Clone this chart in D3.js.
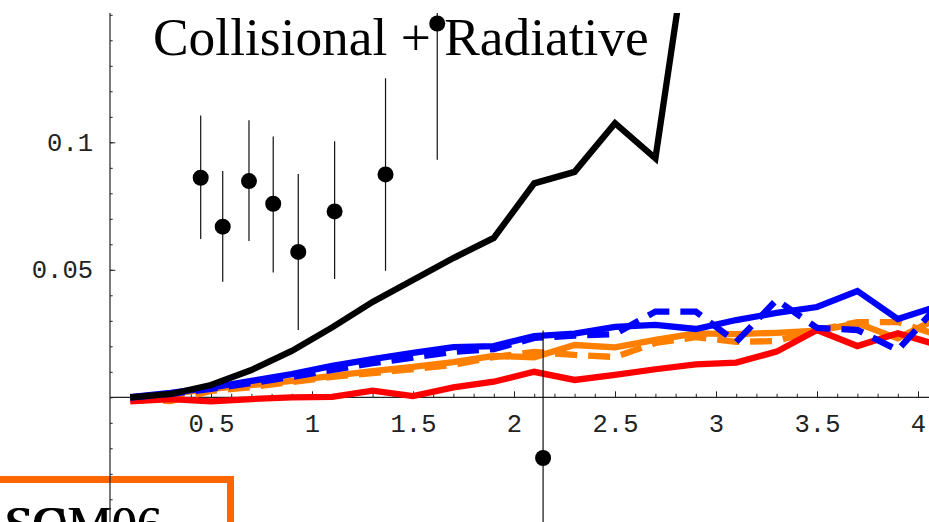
<!DOCTYPE html>
<html>
<head>
<meta charset="utf-8">
<script src="https://cdn.jsdelivr.net/npm/d3@7"></script>
<style>
body { margin: 0; background: #fff; }
svg { display: block; }
.tick text { font-family: "Liberation Mono", "Courier New", monospace; font-size: 25.5px; fill: #222; }
</style>
</head>
<body>
<script>
var w = 929;
var h = 522;

// model curves, sampled at these x values
var xVals = [0.1, 0.3, 0.5, 0.7, 0.9, 1.1, 1.3, 1.5, 1.7, 1.9, 2.1,
             2.3, 2.5, 2.7, 2.9, 3.1, 3.3, 3.5, 3.7, 3.9, 4.1];

var collRad = [0.0000, 0.0013, 0.0048, 0.0107, 0.0182, 0.0274, 0.0374, 0.0460,
               0.0546, 0.0625, 0.0839, 0.0884, 0.1075, 0.0937, 0.2005];

var blueSolid = [0.0001, 0.0017, 0.0038, 0.0064, 0.0091, 0.0123, 0.0150, 0.0174, 0.0197, 0.0201, 0.0240,
                 0.0250, 0.0276, 0.0284, 0.0268, 0.0303, 0.0331, 0.0354, 0.0417, 0.0307, 0.0358];
var blueDashed = [-0.0001, 0.0013, 0.0033, 0.0056, 0.0080, 0.0107, 0.0134, 0.0156, 0.0178, 0.0189, 0.0233,
                  0.0242, 0.0248, 0.0336, 0.0336, 0.0217, 0.0382, 0.0272, 0.0264, 0.0185, 0.0362];
var redSolid = [-0.0016, -0.0007, -0.0016, -0.0007, 0.0000, 0.0002, 0.0026, 0.0005, 0.0039, 0.0061, 0.0100,
                0.0068, 0.0088, 0.0110, 0.0129, 0.0136, 0.0179, 0.0264, 0.0201, 0.0251, 0.0205];
var orangeSolid = [0.0001, 0.0013, 0.0033, 0.0048, 0.0064, 0.0084, 0.0103, 0.0119, 0.0138, 0.0162, 0.0157,
                   0.0205, 0.0196, 0.0225, 0.0251, 0.0248, 0.0253, 0.0261, 0.0290, 0.0231, 0.0311];
var orangeDashed = [-0.0003, -0.0015, 0.0025, 0.0040, 0.0060, 0.0080, 0.0095, 0.0111, 0.0127, 0.0158, 0.0178,
                    0.0166, 0.0158, 0.0213, 0.0236, 0.0217, 0.0221, 0.0264, 0.0295, 0.0295, 0.0244];

// measured points with error bars
var ptX  = [0.449, 0.558, 0.688, 0.808, 0.932, 1.112, 1.364, 1.620, 2.144];
var ptY  = [0.0861, 0.0669, 0.0848, 0.0759, 0.0570, 0.0729, 0.0874, 0.1466, -0.0238];
var ptLo = [0.0621, 0.0453, 0.0613, 0.0489, 0.0264, 0.0464, 0.0496, 0.0932, -0.0800];
var ptHi = [0.1105, 0.0887, 0.1086, 0.1023, 0.0876, 0.1004, 0.1251, 0.2000, 0.0262];

var xMajor = [0.5, 1, 1.5, 2, 2.5, 3, 3.5, 4];
var yMajor = [0.05, 0.1];

var title = "Collisional + Radiative";
var legendTexts = ["SOM06", "SCM06"];

var xScale = d3.scaleLinear().domain([0, 4]).range([110, 918]);
var yScale = d3.scaleLinear().domain([0, 0.1]).range([397.3, 142.3]);

var yTop = yScale.invert(13);
var yBot = yScale.invert(h + 5);

var svg = d3.select("body").append("svg")
    .attr("width", w)
    .attr("height", h);

svg.append("clipPath").attr("id", "plot")
  .append("rect")
    .attr("x", xScale(0))
    .attr("y", yScale(yTop))
    .attr("width", w - xScale(0))
    .attr("height", h - yScale(yTop));

// legend frame (partly cut off at the bottom-left)
svg.append("rect")
    .attr("x", -20)
    .attr("y", 479.5)
    .attr("width", 250.5)
    .attr("height", 80)
    .attr("fill", "none")
    .attr("stroke", "#ff6600")
    .attr("stroke-width", 7);

svg.selectAll("text.legend")
    .data(legendTexts)
    .enter()
    .append("text")
    .attr("class", "legend")
    .attr("x", function(d, i) { return 4 + i * 2; })
    .attr("y", 541)
    .attr("font-family", "Liberation Serif, Times New Roman, serif")
    .attr("font-size", 50)
    .attr("fill", "#000")
    .text(function(d) { return d; });

// title
svg.append("text")
    .attr("x", 153)
    .attr("y", 55)
    .attr("font-family", "Liberation Serif, Times New Roman, serif")
    .attr("font-size", 53.4)
    .attr("fill", "#000")
    .text(title);

// axes
var yMinor = [];
for (var k = -4; k <= 15; k++) yMinor.push(k / 100);
var xMinor = [];
for (var j = 1; j <= 40; j++) xMinor.push(j / 10);

svg.append("g")
    .attr("transform", "translate(" + xScale(0) + ",0)")
    .call(d3.axisLeft(yScale).tickValues(yMinor).tickSize(-2.7).tickFormat(""))
    .call(function(g) { g.select(".domain").remove(); });

svg.append("g")
    .attr("transform", "translate(" + xScale(0) + ",0)")
    .call(d3.axisLeft(yScale).tickValues(yMajor).tickSize(-5.3).tickPadding(17)
          .tickFormat(function(d) { return d === 0.1 ? "0.1" : "0.05"; }))
    .call(function(g) { g.select(".domain").remove(); });

svg.append("g")
    .attr("transform", "translate(0," + yScale(0) + ")")
    .call(d3.axisBottom(xScale).tickValues(xMinor).tickSize(-3.5).tickFormat(""))
    .call(function(g) { g.select(".domain").remove(); });

svg.append("g")
    .attr("transform", "translate(0," + yScale(0) + ")")
    .call(d3.axisBottom(xScale).tickValues(xMajor).tickSize(-6).tickPadding(16.6)
          .tickFormat(function(d) { return String(d); }))
    .call(function(g) { g.select(".domain").remove(); });

svg.selectAll(".tick line").attr("stroke", "#222").attr("stroke-width", 1);

svg.append("line")
    .attr("x1", xScale(0)).attr("x2", xScale(0))
    .attr("y1", yScale(yTop)).attr("y2", yScale(yBot))
    .attr("stroke", "#222").attr("stroke-width", 1.2);

svg.append("line")
    .attr("x1", xScale(0)).attr("x2", w)
    .attr("y1", yScale(0)).attr("y2", yScale(0))
    .attr("stroke", "#222").attr("stroke-width", 1.2);

// curves
var plot = svg.append("g").attr("clip-path", "url(#plot)");

var line = d3.line()
    .x(function(d) { return xScale(d[0]); })
    .y(function(d) { return yScale(d[1]); });

function pairs(vals) {
  return vals.map(function(v, i) { return [xVals[i], v]; });
}

var series = [
  { vals: orangeDashed, color: "#ff8000", dash: "22,11" },
  { vals: orangeSolid,  color: "#ff8000", dash: null },
  { vals: redSolid,     color: "#ff0000", dash: null },
  { vals: blueDashed,   color: "#0000ff", dash: "22,11" },
  { vals: blueSolid,    color: "#0000ff", dash: null },
  { vals: collRad,      color: "#000000", dash: null }
];

plot.selectAll("path.curve")
    .data(series)
    .enter()
    .append("path")
    .attr("class", "curve")
    .attr("d", function(d) { return line(pairs(d.vals)); })
    .attr("fill", "none")
    .attr("stroke", function(d) { return d.color; })
    .attr("stroke-width", 6.3)
    .attr("stroke-linejoin", "miter")
    .attr("stroke-dasharray", function(d) { return d.dash; });

// error bars and points
var pts = ptX.map(function(x, i) { return [x, ptY[i], ptLo[i], ptHi[i]]; });

plot.selectAll("line.err")
    .data(pts)
    .enter()
    .append("line")
    .attr("class", "err")
    .attr("x1", function(d) { return xScale(d[0]); })
    .attr("x2", function(d) { return xScale(d[0]); })
    .attr("y1", function(d) { return yScale(d[2]); })
    .attr("y2", function(d) { return yScale(d[3]); })
    .attr("stroke", "#111")
    .attr("stroke-width", 1.2);

plot.selectAll("circle")
    .data(pts)
    .enter()
    .append("circle")
    .attr("cx", function(d) { return xScale(d[0]); })
    .attr("cy", function(d) { return yScale(d[1]); })
    .attr("r", 8)
    .attr("fill", "#000");
</script>
</body>
</html>
